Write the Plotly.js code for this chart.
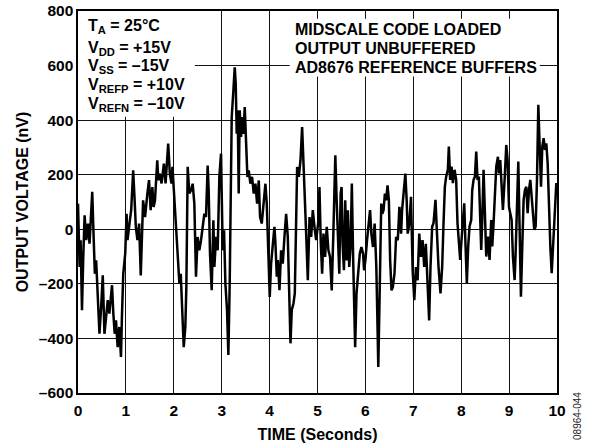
<!DOCTYPE html>
<html>
<head>
<meta charset="utf-8">
<script src="https://cdn.plot.ly/plotly-3.0.1.min.js"></script>
<style>html,body{margin:0;padding:0;background:#fff;}#chart{width:593px;height:443px;}</style>
</head>
<body>
<div id="chart"></div>
<script>
// Time (seconds)
const timeSec = [
0,0.034,0.055,0.083,0.11,0.138,0.172,0.207,0.241,0.269,0.297,0.324,0.352,0.379,0.414,0.448,0.483,0.517,0.552,0.586,
0.621,0.655,0.683,0.71,0.738,0.766,0.793,0.828,0.862,0.897,0.917,0.945,0.986,1.014,1.034,1.055,1.083,1.11,1.131,1.152,
1.179,1.207,1.241,1.276,1.31,1.338,1.359,1.4,1.428,1.448,1.483,1.517,1.552,1.579,1.607,1.634,1.655,1.676,1.703,1.745,
1.772,1.793,1.828,1.855,1.883,1.917,1.952,1.972,2.0,2.034,2.069,2.117,2.145,2.172,2.207,2.241,2.262,2.29,2.324,
2.359,2.394,2.429,2.463,2.498,2.533,2.568,2.603,2.638,2.672,2.707,2.728,2.756,2.791,2.826,2.847,2.882,2.916,2.951,2.986,
3.021,3.049,3.077,3.111,3.139,3.167,3.188,3.209,3.244,3.272,3.293,3.314,3.334,3.355,3.376,3.404,3.425,3.453,3.481,3.509,
3.537,3.564,3.599,3.634,3.669,3.704,3.739,3.774,3.801,3.836,3.871,3.913,3.941,3.962,3.983,4.003,4.031,4.066,4.101,4.122,
4.15,4.171,4.206,4.24,4.275,4.31,4.345,4.38,4.415,4.436,4.463,4.498,4.526,4.554,4.575,4.61,4.645,4.679,4.707,4.735,
4.763,4.798,4.833,4.868,4.902,4.937,4.972,
5.021,5.041,5.069,5.097,5.124,5.159,5.193,5.228,5.262,5.297,5.331,5.352,5.372,5.4,5.434,5.455,5.483,5.503,5.524,5.552,
5.579,5.607,5.634,5.662,5.69,5.717,5.745,5.766,5.786,5.814,5.848,5.883,5.917,5.952,5.972,6.0,6.034,6.076,6.097,6.124,
6.159,6.193,6.228,6.248,6.269,6.29,6.31,6.331,6.352,6.379,6.407,6.434,6.462,6.49,6.517,6.545,6.572,6.607,6.641,6.676,
6.71,6.745,6.766,6.8,6.834,6.862,6.883,6.917,6.952,6.986,7.021,7.055,7.09,7.124,7.159,7.193,7.228,7.262,7.297,7.331,
7.359,7.394,7.422,7.463,7.491,7.526,7.568,7.603,7.631,7.659,7.686,7.721,7.742,7.77,7.798,7.826,7.861,7.895,7.923,7.951,
7.979,8.007,8.035,8.063,8.091,8.118,8.146,8.174,8.209,8.23,8.258,8.286,8.314,8.341,8.369,8.397,8.418,8.439,8.467,8.495,
8.523,8.557,8.592,8.627,8.648,8.676,8.704,8.732,8.767,8.787,8.815,8.843,8.871,8.906,8.941,8.969,8.997,9.024,9.052,9.08,
9.115,9.136,9.164,9.192,9.22,9.247,9.275,9.303,9.331,9.359,9.387,9.415,9.443,9.47,9.498,9.526,9.554,9.582,9.61,9.638,
9.666,9.693,9.721,9.749,9.777,9.805,9.833,9.861,9.889,9.916,9.951,9.986,10
];
// Output voltage (nV)
const outputNv = [
94,-138,-40,-297,-101,51,-40,21,-53,70,137,-16,-163,-114,-236,-383,-285,-169,-383,-309,
-260,-309,-236,-205,-309,-383,-334,-432,-358,-468,-322,-163,-89,57,-40,-16,33,70,155,216,
119,9,-40,21,-169,-16,106,45,106,131,180,70,155,82,106,192,253,180,204,168,
229,241,168,229,314,204,168,229,143,9,-65,-199,-163,-285,-432,-358,-212,229,131,
143,167,94,-174,-28,-77,-40,9,57,45,234,143,-89,-223,33,-138,-28,-77,192,277,
-77,-4,-199,-296,-461,-199,106,411,509,594,533,350,436,131,436,338,411,350,448,289,
192,216,167,192,131,167,94,179,45,21,82,167,94,-52,-199,-248,-126,-65,9,-52,
-174,-113,-223,-77,-126,-28,57,-28,-296,-418,-296,-272,-235,70,228,192,253,375,253,167,
-16,-187,45,-28,70,9,-40,
33,155,-53,-163,-16,-101,9,-77,-101,-224,-16,192,271,106,-40,-163,131,155,-53,-150,
106,-114,70,-138,-65,168,-114,-322,-432,-236,-163,-89,-65,-89,-150,-114,-40,57,70,-16,
-65,21,-138,-309,-505,-309,-4,94,57,70,131,106,161,106,-114,-224,-212,-163,-28,-40,
82,-16,70,155,204,106,-16,21,119,-150,-260,-138,-187,-16,-101,-40,-138,-53,-187,-334,
-137,10,22,108,-2,-137,-235,-137,22,156,193,218,303,181,230,169,218,181,22,-39,
-112,-39,34,95,-63,-198,-63,10,34,144,181,193,285,181,193,59,-76,34,218,59,
-100,-27,-112,34,-63,22,144,230,266,205,254,144,71,181,309,254,83,59,34,-100,
-186,-88,144,248,-2,-247,-63,108,144,156,59,144,181,108,34,-2,10,181,456,303,
156,303,334,291,315,242,59,-63,-161,-63,34,169,160
];
const xTicks = [0,1,2,3,4,5,6,7,8,9,10];
const yTicks = [-600,-400,-200,0,200,400,600,800];
const yTickText = ["\u2013600","\u2013400","\u2013200","0","200","400","600","800"];
const leftNotes = ["T<sub>A</sub> = 25°C","V<sub>DD</sub> = +15V","V<sub>SS</sub> = \u201315V","V<sub>REFP</sub> = +10V","V<sub>REFN</sub> = \u201310V"];
const rightNotes = ["MIDSCALE CODE LOADED","OUTPUT UNBUFFERED","AD8676 REFERENCE BUFFERS"];

const F = 'Liberation Sans, Arial, Helvetica, sans-serif';
const tickFont = {family: F, size: 15.5, color: '#000', weight: 'bold'};
const noteFont = {family: F, size: 16, color: '#000', weight: 'bold'};

const annotations = [];
const leftY = [743, 664, 597, 527, 459];
leftNotes.forEach((t, i) => annotations.push({
  text: t, xref: 'x', yref: 'y', x: 0.16, y: leftY[i], xanchor: 'left', yanchor: 'middle',
  showarrow: false, font: noteFont
}));
const rightY = [732, 662, 592];
rightNotes.forEach((t, i) => annotations.push({
  text: t, xref: 'x', yref: 'y', x: 4.48, y: rightY[i], xanchor: 'left', yanchor: 'middle',
  showarrow: false, font: noteFont
}));
annotations.push({
  text: '08964-044', xref: 'paper', yref: 'paper', x: 1.044, y: -0.06, textangle: -90,
  xanchor: 'center', yanchor: 'middle', showarrow: false,
  font: {family: F, size: 10, color: '#222'}
});

const layout = {
  width: 593, height: 443,
  margin: {l: 78, r: 36, t: 11, b: 50},
  paper_bgcolor: '#fff', plot_bgcolor: '#fff',
  showlegend: false,
  xaxis: {
    range: [0, 10], tickvals: xTicks, ticks: '', showgrid: true, gridcolor: '#111', gridwidth: 1,
    zeroline: false, showline: true, mirror: true, linecolor: '#000', linewidth: 1.6,
    tickfont: tickFont, ticklabelstandoff: 3,
    title: {text: 'TIME (Seconds)', font: noteFont, standoff: 10}
  },
  yaxis: {
    range: [-600, 800], tickvals: yTicks, ticktext: yTickText, ticks: '', showgrid: true, gridcolor: '#111', gridwidth: 1,
    zeroline: false, showline: true, mirror: true, linecolor: '#000', linewidth: 1.6,
    tickfont: tickFont,
    title: {text: 'OUTPUT VOLTAGE (nV)', font: noteFont, standoff: 6}
  },
  shapes: [
    {type: 'rect', xref: 'x', yref: 'y', x0: 0, x1: 2.44, y0: 412, y1: 800, fillcolor: '#fff', line: {width: 0}, layer: 'between'},
    {type: 'rect', xref: 'x', yref: 'y', x0: 4.42, x1: 9.64, y0: 560, y1: 772, fillcolor: '#fff', line: {width: 0}, layer: 'between'}
  ],
  annotations: annotations
};

Plotly.newPlot('chart', [{
  x: timeSec, y: outputNv, type: 'scatter', mode: 'lines',
  line: {color: '#000', width: 2.5}, hoverinfo: 'skip'
}], layout, {staticPlot: true, displayModeBar: false});
</script>
</body>
</html>
